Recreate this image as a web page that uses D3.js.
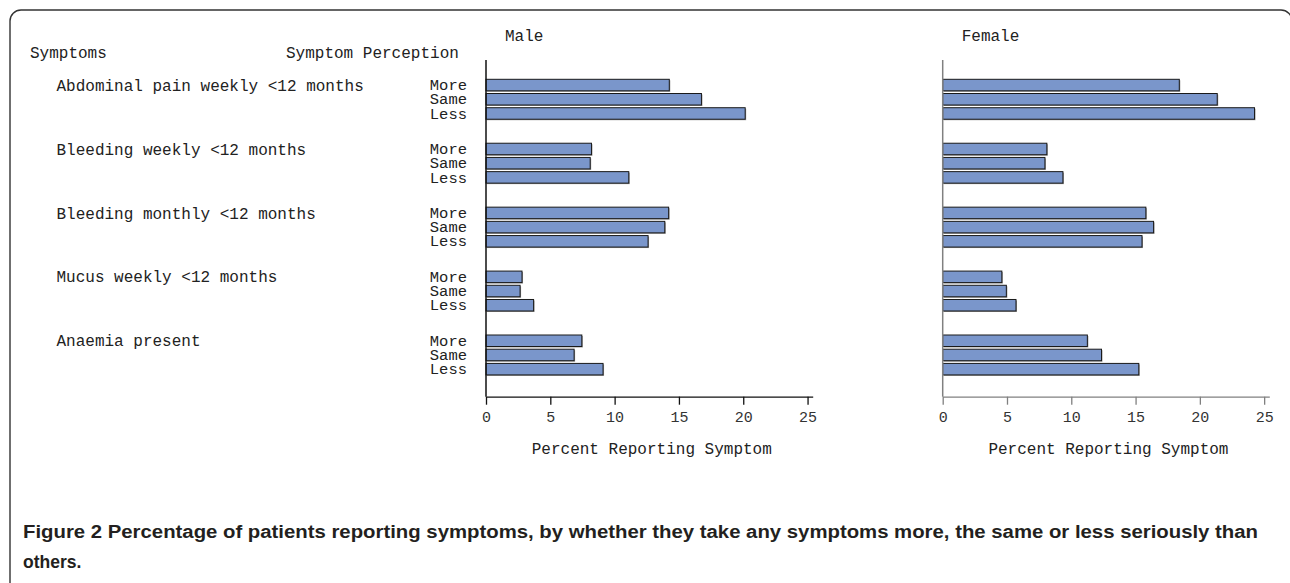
<!DOCTYPE html>
<html>
<head>
<meta charset="utf-8">
<script src="https://cdn.jsdelivr.net/npm/d3@7"></script>
<style>
  body { margin: 0; background: #fff; }
  svg { display: block; }
</style>
</head>
<body>
<div id="chart"></div>
<script>
// Symptom perception by sex

const width = 1290,
    height = 583;

// data
const symptoms = ["Abdominal pain weekly <12 months", "Bleeding weekly <12 months",
  "Bleeding monthly <12 months", "Mucus weekly <12 months", "Anaemia present"];
const perceptions = ["More", "Same", "Less"];
const maleValues = [
  [14.25, 16.75, 20.15],
  [8.2, 8.1, 11.1],
  [14.2, 13.9, 12.6],
  [2.8, 2.65, 3.7],
  [7.45, 6.85, 9.1]
];
const femaleValues = [
  [18.4, 21.35, 24.25],
  [8.1, 7.95, 9.35],
  [15.8, 16.4, 15.5],
  [4.6, 4.95, 5.7],
  [11.25, 12.35, 15.25]
];
const xTicks = [0, 5, 10, 15, 20, 25];

const mono = "'Courier New', Courier, 'Nimbus Mono PS', 'Nimbus Mono L', FreeMono, 'Liberation Mono', monospace";
const barFill = "#7a96cb";
const barH = 11.5;
const axisY = 396.7;
const axisTop = 60;

let svg = d3.select("#chart")
  .append("svg")
    .attr("width", width)
    .attr("height", height);

// frame
svg.append("rect")
  .attr("x", 10).attr("y", 10)
  .attr("width", 1282).attr("height", 640)
  .attr("rx", 11)
  .attr("fill", "none")
  .attr("stroke", "#333")
  .attr("stroke-width", 1.4);

// row positions: 3 bars per group, groups 4.5 rows apart
let y = d3.scaleLinear()
  .domain([0, 18])
  .range([79.3, 335]);
const rowPos = (g, r) => y(g * 4.5 + r);

// flatten rows
let rows = [];
symptoms.forEach((s, g) => {
  perceptions.forEach((p, r) => {
    rows.push({g, r, symptom: s, perception: p, male: maleValues[g][r], female: femaleValues[g][r]});
  });
});

// header texts
svg.append("text")
  .attr("x", 30).attr("y", 58)
  .attr("font-family", mono).attr("font-size", 16).attr("fill", "#222")
  .text("Symptoms");
svg.append("text")
  .attr("x", 286).attr("y", 58)
  .attr("font-family", mono).attr("font-size", 16).attr("fill", "#222")
  .text("Symptom Perception");

// symptom labels
svg.selectAll(".symLabel")
  .data(symptoms)
  .join("text")
    .attr("class", "symLabel")
    .attr("x", 56.5)
    .attr("y", (d, i) => rowPos(i, 0) + barH / 2)
    .attr("dy", "0.35em")
    .attr("font-family", mono).attr("font-size", 16).attr("fill", "#222")
    .text(d => d);

// perception labels
svg.selectAll(".percLabel")
  .data(rows)
  .join("text")
    .attr("class", "percLabel")
    .attr("x", 467)
    .attr("y", d => rowPos(d.g, d.r) + barH / 2)
    .attr("dy", "0.33em")
    .attr("text-anchor", "end")
    .attr("font-family", mono).attr("font-size", 15.5).attr("fill", "#222")
    .text(d => d.perception);

function panel(title, key, x0, x1, axisColor) {
  let x = d3.scaleLinear()
    .domain([0, 25.4])
    .range([x0, x1]);

  let g = svg.append("g");

  g.append("text")
    .attr("x", x0 + 19).attr("y", 35)
    .attr("dy", "0.35em")
    .attr("font-family", mono).attr("font-size", 16).attr("fill", "#222")
    .text(title);

  // bars with a faint shadow
  g.selectAll(".shadow")
    .data(rows)
    .join("rect")
      .attr("x", x(0) + 1)
      .attr("y", d => rowPos(d.g, d.r) + 1)
      .attr("width", d => x(d[key]) - x(0))
      .attr("height", barH)
      .attr("fill", "#999");
  g.selectAll(".bar")
    .data(rows)
    .join("rect")
      .attr("x", x(0))
      .attr("y", d => rowPos(d.g, d.r))
      .attr("width", d => x(d[key]) - x(0))
      .attr("height", barH)
      .attr("fill", barFill)
      .attr("stroke", "#1a1a1a")
      .attr("stroke-width", 1);

  // vertical axis line
  g.append("line")
    .attr("x1", x(0)).attr("x2", x(0))
    .attr("y1", axisTop).attr("y2", axisY)
    .attr("stroke", axisColor).attr("stroke-width", 1.5);

  let axis = g.append("g")
    .attr("transform", `translate(0, ${axisY})`)
    .call(d3.axisBottom(x).tickValues(xTicks).tickSize(8).tickPadding(7).tickSizeOuter(0));
  axis.select(".domain").attr("stroke", axisColor).attr("stroke-width", 1.3);
  axis.selectAll(".tick line").attr("stroke", axisColor).attr("stroke-width", 1.3);
  axis.selectAll(".tick text")
    .attr("font-family", mono).attr("font-size", 15).attr("fill", "#333");

  g.append("text")
    .attr("x", (x(0) + x(25)) / 2 + 5)
    .attr("y", 448)
    .attr("dy", "0.35em")
    .attr("text-anchor", "middle")
    .attr("font-family", mono).attr("font-size", 16).attr("fill", "#222")
    .text("Percent Reporting Symptom");
}

panel("Male", "male", 486, 812.7, "#111");
panel("Female", "female", 942.7, 1269.3, "#808080");

// caption
const capFont = "'Liberation Sans Narrow', 'Arial Narrow', 'Liberation Sans', Arial, sans-serif";
let cap1 = svg.append("text")
  .attr("x", 23).attr("y", 538)
  .attr("font-family", capFont).attr("font-size", 17.5)
  .attr("font-weight", "bold").attr("fill", "#231f20")
  .attr("textLength", 1235).attr("lengthAdjust", "spacingAndGlyphs");
cap1.append("tspan").text("Figure 2 ");
cap1.append("tspan").text("Percentage of patients reporting symptoms, by whether they take any symptoms more, the same or less seriously than");
svg.append("text")
  .attr("x", 23).attr("y", 568)
  .attr("font-family", capFont).attr("font-size", 17.5)
  .attr("font-weight", "bold").attr("fill", "#231f20")
  .text("others.");
</script>
</body>
</html>
